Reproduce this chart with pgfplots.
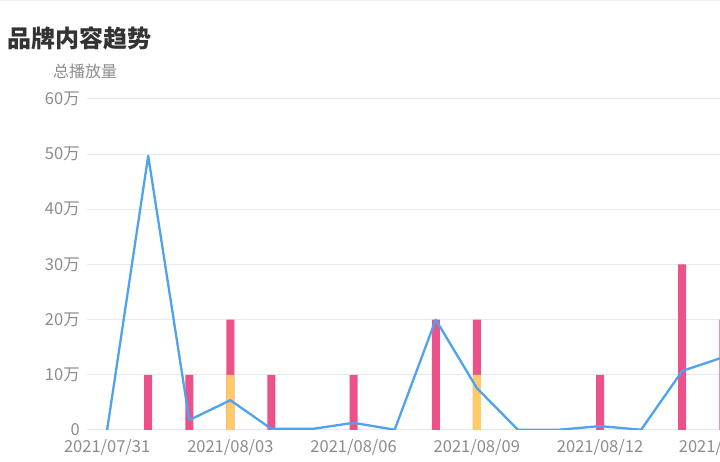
\documentclass[border=0pt]{standalone}
\usepackage{fontspec}
\setmainfont{Noto Sans CJK SC}
\usepackage{pgfplots}
\pgfplotsset{compat=1.18}
\definecolor{pinkbar}{HTML}{EC5289}
\definecolor{yellowbar}{HTML}{FFCB66}
\definecolor{blueline}{HTML}{4FA3EE}
\definecolor{gridc}{HTML}{E6E9EF}
\definecolor{tickc}{HTML}{8C8C8C}
\definecolor{titlec}{HTML}{333333}
\begin{document}
\begin{tikzpicture}[x=1pt,y=1pt]
\useasboundingbox (0,0) rectangle (720,462);
\draw[gridc!70, line width=1pt] (0,461) -- (720,461);
\node[anchor=west, font=\fontsize{24}{26}\selectfont\bfseries, text=titlec, inner sep=0] at (7,424) {品牌内容趋势};
\node[anchor=west, font=\fontsize{16}{18}\selectfont, text=tickc, inner sep=0] at (53,391) {总播放量};
\begin{axis}[
 at={(87pt,32pt)}, anchor=south west, scale only axis, width=633pt, height=331pt,
 xmin=-0.49, xmax=14.92, ymin=0, ymax=60,
 axis line style={draw=none}, major tick length=0pt,
 ytick={0,10,...,60}, yticklabels={0,10万,20万,30万,40万,50万,60万},
 xtick={0,3,6,9,12}, xticklabels={2021/07/31,2021/08/03,2021/08/06,2021/08/09,2021/08/12},
 ymajorgrids, grid style={gridc, line width=1pt},
 xticklabel style={text=tickc, font=\fontsize{16.5}{18}\selectfont, anchor=center, yshift=-17pt},
 yticklabel style={text=tickc, font=\fontsize{16.5}{18}\selectfont, anchor=east, inner sep=0pt, xshift=-7pt},
 ybar, bar width=8pt,
 clip=true,
]
\addplot[fill=pinkbar, draw=none, bar shift=0pt] coordinates {(1,10)(2,10)(3,20)(4,10)(6,10)(8,20)(9,20)(12,10)(14,30)(15,20)};
\addplot[fill=yellowbar, draw=none, bar shift=0pt] coordinates {(3,10)(9,10)};
\addplot[sharp plot, blueline, line width=2.3pt, mark=none, line join=round] coordinates {(0,0)(1,49.7)(2,1.8)(3,5.4)(4,0.2)(5,0.2)(6,1.3)(7,0.05)(8,20)(9,7.6)(10,0.05)(11,0.05)(12,0.7)(13,0.05)(14,10.7)(15,13.2)};
\end{axis}
\node[text=tickc, font=\fontsize{16.5}{18}\selectfont, anchor=center, inner sep=0] at (722,15) {2021/08/15};
\end{tikzpicture}
\end{document}
